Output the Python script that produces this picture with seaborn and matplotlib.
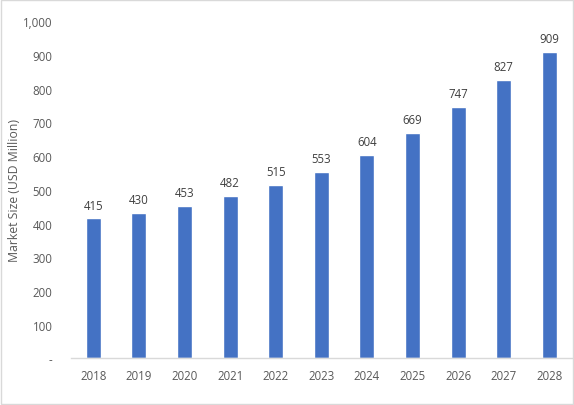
import pandas as pd
import matplotlib
matplotlib.use("Agg")
import matplotlib.pyplot as plt
import seaborn as sns


# chart data
years = ["2018", "2019", "2020", "2021", "2022", "2023", "2024", "2025", "2026", "2027", "2028"]
market_size = [415, 430, 453, 482, 515, 553, 604, 669, 747, 827, 909]
y_ticks = [0, 100, 200, 300, 400, 500, 600, 700, 800, 900, 1000]
y_tick_labels = ["-", "100", "200", "300", "400", "500", "600", "700", "800", "900", "1,000"]

df = pd.DataFrame({"year": years, "size": market_size})

sns.set_style("white")
plt.rcParams["font.family"] = ["Open Sans", "DejaVu Sans"]

text_col = "#595959"
bar_col = "#4472C4"
line_col = "#D9D9D9"

fig = plt.figure(figsize=(5.74, 4.06), dpi=100)
ax = fig.add_axes([0.123, 0.115, 0.8735, 0.83])

sns.barplot(data=df, x="year", y="size", color=bar_col, width=0.33,
            saturation=1, ax=ax)

# value labels above bars
ax.bar_label(ax.containers[0], labels=[str(v) for v in market_size],
             padding=5, fontsize=8.3, color="#404040")

ax.set_ylim(0, 1000)
ax.set_xlim(-0.5, len(years) - 0.5)
ax.set_yticks(y_ticks)
ax.set_yticklabels(y_tick_labels)
ax.tick_params(axis="both", length=0, labelsize=8.3, labelcolor=text_col)
ax.tick_params(axis="y", pad=13)
ax.tick_params(axis="x", pad=8)

ax.set_xlabel("")
ax.set_ylabel("Market Size (USD Million)", fontsize=8.8, color=text_col)
ax.yaxis.set_label_coords(-0.099, 0.5)

for side in ["top", "right", "left"]:
    ax.spines[side].set_visible(False)
ax.spines["bottom"].set_color(line_col)
ax.spines["bottom"].set_linewidth(1)

# light frame around the whole chart
fig.patches.append(plt.Rectangle((0.002, 0.002), 0.996, 0.995, transform=fig.transFigure,
                                 fill=False, edgecolor=line_col, linewidth=1))

fig.savefig("out.png", dpi=100)
